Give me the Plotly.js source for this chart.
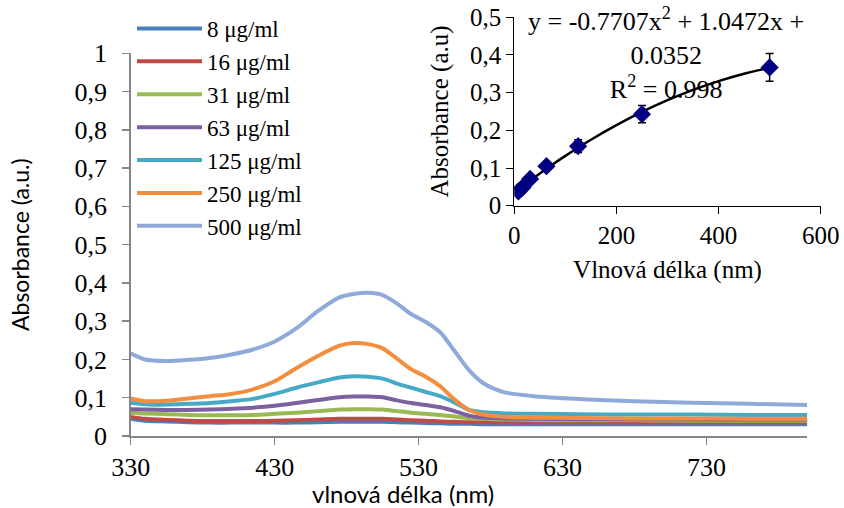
<!DOCTYPE html>
<html>
<head>
<meta charset="utf-8">
<script src="https://cdn.plot.ly/plotly-3.0.1.min.js"></script>
<style>html,body{margin:0;padding:0;background:#fff;}#chart{width:844px;height:508px;}</style>
</head>
<body>
<div id="chart"></div>
<script>
// ---- main spectra data ----
var wavelength = [330, 340, 355, 370, 385, 400, 415, 430, 445, 460, 475, 485, 495, 505, 515, 525, 535, 545, 555, 565, 575, 590, 610, 640, 680, 720, 760, 800];
var seriesNames = ["8 μg/ml", "16 μg/ml", "31 μg/ml", "63 μg/ml", "125 μg/ml", "250 μg/ml", "500 μg/ml"];
var abs8   = [0.045, 0.040, 0.038, 0.036, 0.035, 0.035, 0.035, 0.035, 0.035, 0.036, 0.037, 0.037, 0.037, 0.037, 0.036, 0.035, 0.034, 0.033, 0.032, 0.032, 0.031, 0.031, 0.031, 0.031, 0.031, 0.031, 0.031, 0.031];
var abs16  = [0.050, 0.045, 0.042, 0.040, 0.039, 0.039, 0.039, 0.040, 0.041, 0.043, 0.045, 0.045, 0.045, 0.045, 0.043, 0.041, 0.040, 0.038, 0.037, 0.036, 0.036, 0.035, 0.035, 0.035, 0.035, 0.035, 0.035, 0.035];
var abs31  = [0.061, 0.059, 0.057, 0.055, 0.054, 0.054, 0.055, 0.058, 0.061, 0.065, 0.069, 0.070, 0.070, 0.069, 0.065, 0.061, 0.058, 0.055, 0.051, 0.047, 0.045, 0.043, 0.042, 0.041, 0.041, 0.040, 0.040, 0.040];
var abs63  = [0.070, 0.069, 0.068, 0.068, 0.069, 0.071, 0.074, 0.079, 0.086, 0.094, 0.101, 0.103, 0.103, 0.101, 0.093, 0.086, 0.081, 0.075, 0.065, 0.053, 0.048, 0.046, 0.045, 0.044, 0.044, 0.043, 0.043, 0.043];
var abs125 = [0.087, 0.083, 0.082, 0.084, 0.086, 0.091, 0.097, 0.110, 0.126, 0.140, 0.153, 0.156, 0.155, 0.150, 0.137, 0.126, 0.115, 0.104, 0.087, 0.068, 0.062, 0.059, 0.058, 0.057, 0.056, 0.056, 0.055, 0.055];
var abs250 = [0.098, 0.091, 0.092, 0.098, 0.104, 0.110, 0.122, 0.143, 0.177, 0.209, 0.236, 0.243, 0.240, 0.229, 0.202, 0.174, 0.155, 0.130, 0.095, 0.068, 0.056, 0.050, 0.048, 0.047, 0.046, 0.046, 0.045, 0.045];
var abs500 = [0.216, 0.200, 0.196, 0.199, 0.204, 0.213, 0.226, 0.247, 0.281, 0.326, 0.362, 0.371, 0.374, 0.368, 0.346, 0.318, 0.298, 0.271, 0.222, 0.172, 0.138, 0.114, 0.104, 0.097, 0.091, 0.087, 0.084, 0.081];
var mainXTicks = [330, 430, 530, 630, 730];

// ---- inset calibration data ----
var concentration = [8, 16, 31, 63, 125, 250, 500];
var calAbs = [0.038, 0.048, 0.071, 0.105, 0.158, 0.243, 0.367];
var calErr = [0.004, 0.004, 0.006, 0.008, 0.017, 0.023, 0.037];
// trendline coefficients as printed on the chart (x in mg/ml): a*x^2 + b*x + c
var fitCoef = [-0.7707, 1.0472, 0.0352];
var fitX = [8, 25, 50, 75, 100, 150, 200, 250, 300, 350, 400, 450, 500];

var colors = ["#4A7EBB", "#BE4B48", "#98B954", "#7D60A0", "#46AAC5", "#F28E3E", "#8FAAD8"];
var allSeries = [abs8, abs16, abs31, abs63, abs125, abs250, abs500];

var traces = [];
for (var i = 0; i < allSeries.length; i++) {
  traces.push({
    type: "scatter", mode: "lines",
    x: wavelength, y: allSeries[i], name: seriesNames[i],
    line: {color: colors[i], width: 4, shape: "spline", smoothing: 0.8},
    xaxis: "x", yaxis: "y", hoverinfo: "skip"
  });
}
var fitY = fitX.map(function (x) { var m = x / 1000; return fitCoef[0] * m * m + fitCoef[1] * m + fitCoef[2]; });
traces.push({
  type: "scatter", mode: "lines", x: fitX, y: fitY, showlegend: false,
  line: {color: "#000000", width: 2.5, shape: "spline"}, xaxis: "x2", yaxis: "y2"
});
traces.push({
  type: "scatter", mode: "markers", x: concentration, y: calAbs, showlegend: false,
  marker: {symbol: "diamond", size: 14, color: "#000080"},
  error_y: {type: "data", array: calErr, visible: true, color: "#000000", thickness: 1.5, width: 4},
  xaxis: "x2", yaxis: "y2"
});

var serif = "Liberation Serif, Times New Roman, serif";
var sans = "Lato, Open Sans, sans-serif";
var W = 844, H = 508;
function px(x) { return x / W; }
function py(y) { return (H - y) / H; }

var layout = {
  width: W, height: H,
  margin: {l: 0, r: 0, t: 0, b: 0},
  paper_bgcolor: "#ffffff", plot_bgcolor: "rgba(0,0,0,0)",
  separators: ", ",
  showlegend: true,
  legend: {
    x: px(132), y: py(7), xanchor: "left", yanchor: "top",
    font: {family: serif, size: 23, color: "#000"},
    bgcolor: "rgba(0,0,0,0)", borderwidth: 0, itemwidth: 65
  },
  xaxis: {
    domain: [px(130.7), px(807.3)], range: [330, 800],
    tickmode: "array", tickvals: mainXTicks, ticktext: mainXTicks.map(String),
    ticks: "outside", ticklen: 7, tickcolor: "#868686", tickwidth: 1.5,
    showline: true, linecolor: "#868686", linewidth: 1.5, showgrid: false, zeroline: false,
    tickfont: {family: serif, size: 26, color: "#000"},
    anchor: "y", fixedrange: true
  },
  yaxis: {
    domain: [py(436), py(53.3)], range: [0, 1], dtick: 0.1, tick0: 0,
    ticks: "outside", ticklen: 7, tickcolor: "#868686", tickwidth: 1.5,
    showline: true, linecolor: "#868686", linewidth: 1.5, showgrid: false, zeroline: false,
    tickfont: {family: serif, size: 26, color: "#000"}, ticklabelstandoff: 10,
    title: {text: "Absorbance (a.u.)", font: {family: sans, size: 23, color: "#000"}, standoff: 38},
    anchor: "x", fixedrange: true
  },
  xaxis2: {
    domain: [px(514.3), px(820.7)], range: [0, 600], dtick: 200, tick0: 0,
    ticks: "outside", ticklen: 7, tickcolor: "#000", tickwidth: 1,
    showline: true, linecolor: "#000", linewidth: 1, showgrid: false, zeroline: false,
    tickfont: {family: serif, size: 25, color: "#000"},
    title: {text: "Vlnová délka (nm)", font: {family: serif, size: 25, color: "#000"}, standoff: 12},
    anchor: "y2", fixedrange: true
  },
  yaxis2: {
    domain: [py(205.7), py(17.3)], range: [0, 0.5], dtick: 0.1, tick0: 0,
    ticks: "outside", ticklen: 7, tickcolor: "#000", tickwidth: 1,
    showline: true, linecolor: "#000", linewidth: 1, showgrid: false, zeroline: false,
    tickfont: {family: serif, size: 25, color: "#000"},
    title: {text: "Absorbance (a.u)", font: {family: serif, size: 25, color: "#000"}, standoff: 14},
    anchor: "x2", fixedrange: true
  },
  annotations: [{
    xref: "paper", yref: "paper", x: px(666), y: py(53), xanchor: "center", yanchor: "middle",
    text: "y = -0.7707x<sup>2</sup> + 1.0472x +<br>0.0352<br>R<sup>2</sup> = 0.998",
    showarrow: false, align: "center",
    font: {family: serif, size: 26, color: "#000"}
  }, {
    xref: "paper", yref: "paper", x: px(403), y: py(493), xanchor: "center", yanchor: "middle",
    text: "vlnová délka (nm)", showarrow: false,
    font: {family: sans, size: 24, color: "#000"}
  }]
};

Plotly.newPlot("chart", traces, layout, {displayModeBar: false, staticPlot: true});
</script>
</body>
</html>
